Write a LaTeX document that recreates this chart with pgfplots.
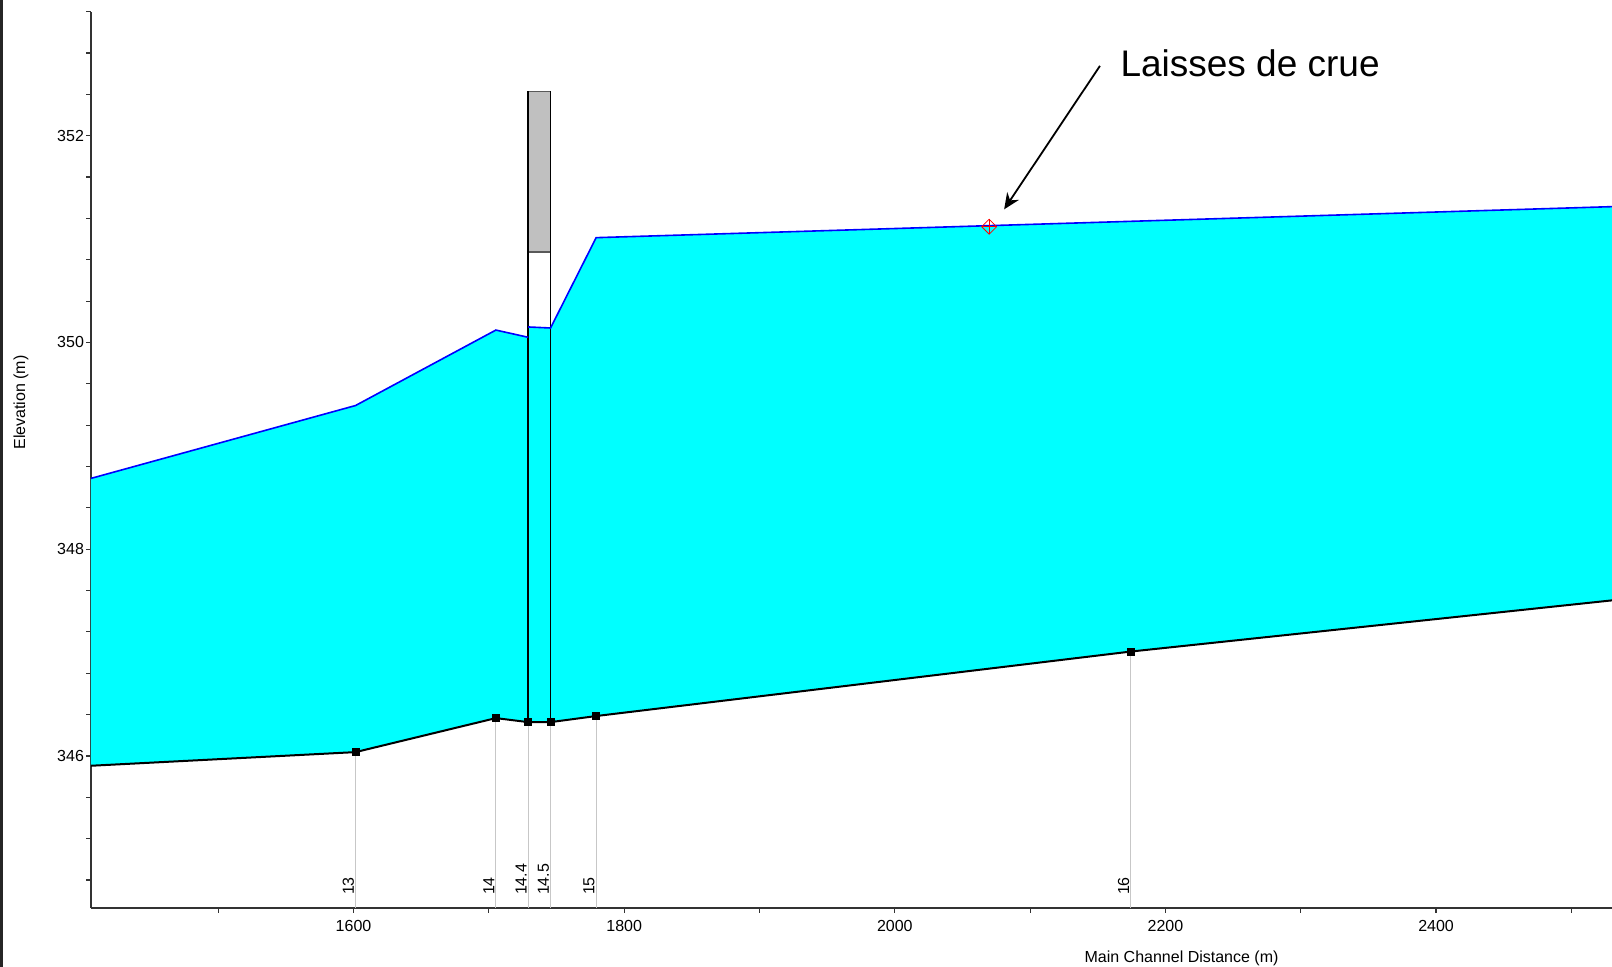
\documentclass[border=0pt]{standalone}
\usepackage{pgfplots}
\pgfplotsset{compat=1.18}
\usepackage{fontspec}
\setmainfont{Liberation Sans}
\usetikzlibrary{arrows.meta}
\definecolor{water}{HTML}{00FFFF}
\definecolor{deck}{HTML}{C0C0C0}

\begin{document}
\begin{tikzpicture}
\begin{axis}[
  at={(0,0)}, anchor=south west,
  scale only axis, width=760.5pt, height=448.15pt,
  xmin=1406, xmax=2530, ymin=344.529, ymax=353.2,
  axis lines=left, axis line style={-, black!80, line width=0.75pt},
  tick align=outside, major tick length=2.5pt, minor tick length=2.5pt,
  tick style={black!80, line width=0.6pt},
  xtick={1600,1800,2000,2200,2400},
  minor xtick={1500,1700,1900,2100,2300,2500},
  ytick={346,348,350,352},
  minor ytick={344.8,345.2,345.6,346.4,346.8,347.2,347.6,348.4,348.8,349.2,349.6,350.4,350.8,351.2,351.6,352.4,352.8,353.2},
  tick label style={font=\fontsize{8}{9.5}\selectfont},
  yticklabel style={xshift=2.5pt},
  /pgf/number format/assume math mode=true,
  /pgf/number format/set thousands separator={},
  xlabel={Main Channel Distance (m)}, ylabel={Elevation (m)},
  label style={font=\fontsize{8}{10}\selectfont},
  xlabel style={at={(axis description cs:0.717,-0.0558)}, anchor=center},
  ylabel style={at={(axis description cs:-0.046,0.564)}, anchor=center},
  clip=true,
]
% water region (surface then bed reversed)
\addplot[fill=water, draw=none] coordinates {
  (1406,348.685) (1601.5,349.39) (1705.2,350.12) (1729.1,350.05)
  (1729.1,350.15) (1745.6,350.14) (1779.3,351.014) (2174.5,351.172) (2530,351.314)
  (2530,347.505) (2174.5,347.01) (1779.3,346.386) (1745.6,346.327)
  (1729.1,346.327) (1705.2,346.366) (1601.5,346.037) (1406,345.905)
} -- cycle;
% cross-section stems
\addplot[ycomb, draw=black!22, line width=0.5pt, mark=none] coordinates {
  (1601.5,346.037) (1705.2,346.366) (1729.1,346.327) (1745.6,346.327) (1779.3,346.386) (2174.5,347.01)
};
% bridge deck
\addplot[fill=deck, draw=black!65, line width=0.6pt] coordinates {
  (1729.1,350.875) (1729.1,352.428) (1745.6,352.428) (1745.6,350.875)
} -- cycle;
\addplot[black, line width=0.85pt] coordinates {(1729.1,346.327) (1729.1,352.428)};
\addplot[black, line width=0.85pt] coordinates {(1745.6,346.327) (1745.6,352.428)};
% water surface
\addplot[blue, line width=0.8pt] coordinates {
  (1406,348.685) (1601.5,349.39) (1705.2,350.12) (1729.1,350.05)
};
\addplot[blue, line width=0.8pt] coordinates {
  (1729.1,350.15) (1745.6,350.14) (1779.3,351.014) (2174.5,351.172) (2530,351.314)
};
% bed
\addplot[black, line width=1pt] coordinates {
  (1406,345.905) (1601.5,346.037) (1705.2,346.366) (1729.1,346.327)
  (1745.6,346.327) (1779.3,346.386) (2174.5,347.01) (2530,347.505)
};
\addplot[only marks, mark=square*, mark size=1.8pt, black] coordinates {
  (1601.5,346.037) (1705.2,346.366) (1729.1,346.327) (1745.6,346.327) (1779.3,346.386) (2174.5,347.01)
};
% high water mark
\addplot[only marks, red, mark=square, mark size=2.65pt, mark options={rotate=45, line width=0.4pt}] coordinates {(2069.7,351.12)};
\addplot[only marks, red, mark=+, mark size=3.75pt, mark options={line width=0.4pt}] coordinates {(2069.7,351.12)};
% cross-section labels
\foreach \xs/\lab in {1601.5/13, 1705.2/14, 1729.1/14.4, 1745.6/14.5, 1779.3/15, 2174.5/16} {
  \edef\temp{\noexpand\node[rotate=90, anchor=south west, inner sep=0.6pt, font=\noexpand\fontsize{8}{9.5}\noexpand\selectfont] at (axis cs:\xs,344.64) {\lab};}
  \temp
}
% annotation
\node[anchor=base west, inner sep=0pt, font=\fontsize{18.5}{21}\selectfont] at (axis cs:2166.5,352.57) {Laisses de crue};
\draw[-{Stealth[length=8pt,width=7pt]}, line width=0.9pt] (axis cs:2151.6,352.676) -- (axis cs:2080.8,351.288);
\end{axis}
\draw[line width=1.5pt, black!85] (-44.75pt,-29.5pt) -- (-44.75pt,454pt);
\pgfresetboundingbox
\path[use as bounding box] (-45.5pt,-29.5pt) rectangle (760.5pt,454pt);
\end{tikzpicture}
\end{document}
